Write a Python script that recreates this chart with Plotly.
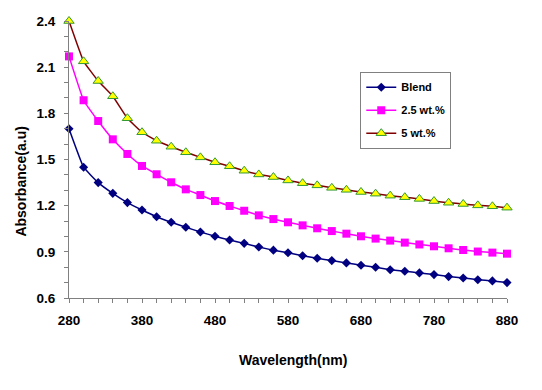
import plotly.graph_objects as go

wavelength = list(range(280, 881, 20))

blend = [1.70, 1.45, 1.35, 1.28, 1.22, 1.172, 1.128, 1.092, 1.06, 1.029, 1.001,
         0.977, 0.955, 0.931, 0.911, 0.894, 0.875, 0.858, 0.843, 0.828, 0.813,
         0.800, 0.784, 0.774, 0.763, 0.752, 0.739, 0.730, 0.719, 0.711, 0.700]

wt25 = [2.17, 1.885, 1.75, 1.631, 1.536, 1.458, 1.404, 1.352, 1.306, 1.269, 1.23,
        1.198, 1.167, 1.137, 1.113, 1.092, 1.072, 1.053, 1.035, 1.018, 1.001,
        0.986, 0.973, 0.960, 0.948, 0.936, 0.923, 0.912, 0.902, 0.895, 0.888]

wt5 = [2.40, 2.138, 2.01, 1.911, 1.768, 1.677, 1.622, 1.583, 1.547, 1.514, 1.482,
       1.456, 1.427, 1.403, 1.386, 1.364, 1.346, 1.332, 1.316, 1.303, 1.289,
       1.278, 1.265, 1.255, 1.244, 1.23, 1.219, 1.211, 1.202, 1.196, 1.187]

series_names = ["Blend", "2.5 wt.%", "5 wt.%"]
x_title = "Wavelength(nm)"
y_title = "Absorbance(a.u)"

fig = go.Figure()
fig.add_trace(go.Scatter(
    x=wavelength, y=blend, name=series_names[0], mode="lines+markers",
    line=dict(color="#000080", width=1.5, shape="spline", smoothing=0.3),
    marker=dict(symbol="diamond", size=7, color="#000080"),
    legendgroup="a", cliponaxis=False))
fig.add_trace(go.Scatter(
    x=wavelength, y=wt25, name=series_names[1], mode="lines+markers",
    line=dict(color="#FF00FF", width=1.5, shape="spline", smoothing=0.3),
    marker=dict(symbol="square", size=8, color="#FF00FF"),
    legendgroup="b", cliponaxis=False))
fig.add_trace(go.Scatter(
    x=wavelength, y=wt5, name=series_names[2], mode="lines+markers",
    line=dict(color="#800000", width=1.5, shape="spline", smoothing=0.3),
    marker=dict(symbol="triangle-up", size=9, color="#FFFF00",
                line=dict(color="#339933", width=1)),
    legendgroup="c", cliponaxis=False))

FONT = "Liberation Sans, Arial, sans-serif"
axis_font = dict(family=FONT, size=13.5, color="black")

# page body has an 8px default margin, so the figure is sized 8px smaller
fig.update_layout(
    width=534, height=382,
    margin=dict(l=61, r=35, t=13, b=92, autoexpand=False),
    paper_bgcolor="white", plot_bgcolor="white",
    font=dict(family=FONT, color="black"),
    xaxis=dict(
        range=[280, 880], tickmode="linear", tick0=280, dtick=100,
        showgrid=False, zeroline=False, showline=True, linecolor="#808080", linewidth=1,
        ticks="outside", ticklen=4, tickcolor="#808080", ticklabelstandoff=6,
        minor=dict(dtick=20, tick0=280, ticks="outside", ticklen=4, tickcolor="#808080", showgrid=False),
        tickfont=dict(**axis_font), tickprefix="<b>", ticksuffix="</b>",
    ),
    yaxis=dict(
        range=[0.6, 2.4], tickmode="linear", tick0=0.6, dtick=0.3, tickformat=".1f",
        showgrid=False, zeroline=False, showline=True, linecolor="#808080", linewidth=1,
        ticks="outside", ticklen=4, tickcolor="#808080", ticklabelstandoff=6,
        minor=dict(dtick=0.1, tick0=0.6, ticks="outside", ticklen=4, tickcolor="#808080", showgrid=False),
        tickfont=dict(**axis_font), tickprefix="<b>", ticksuffix="</b>",
    ),
    legend=dict(
        x=0.665, y=0.817, xanchor="left", yanchor="top",
        bgcolor="white", bordercolor="#808080", borderwidth=1,
        font=dict(family=FONT, size=11),
        traceorder="grouped", tracegroupgap=4, itemwidth=30,
    ),
    annotations=[
        dict(text="<b>" + x_title + "</b>", xref="paper", yref="paper",
             x=0.511, y=-0.224, xanchor="center", yanchor="middle", showarrow=False,
             font=dict(family=FONT, size=14, color="black")),
        dict(text="<b>" + y_title + "</b>", xref="paper", yref="paper",
             x=-0.1085, y=0.422, xanchor="center", yanchor="middle", showarrow=False,
             textangle=-90, font=dict(family=FONT, size=14, color="black")),
    ],
)

for tr in fig.data:
    tr.name = "<b>" + tr.name + "</b>"

fig.write_html("out.html")
